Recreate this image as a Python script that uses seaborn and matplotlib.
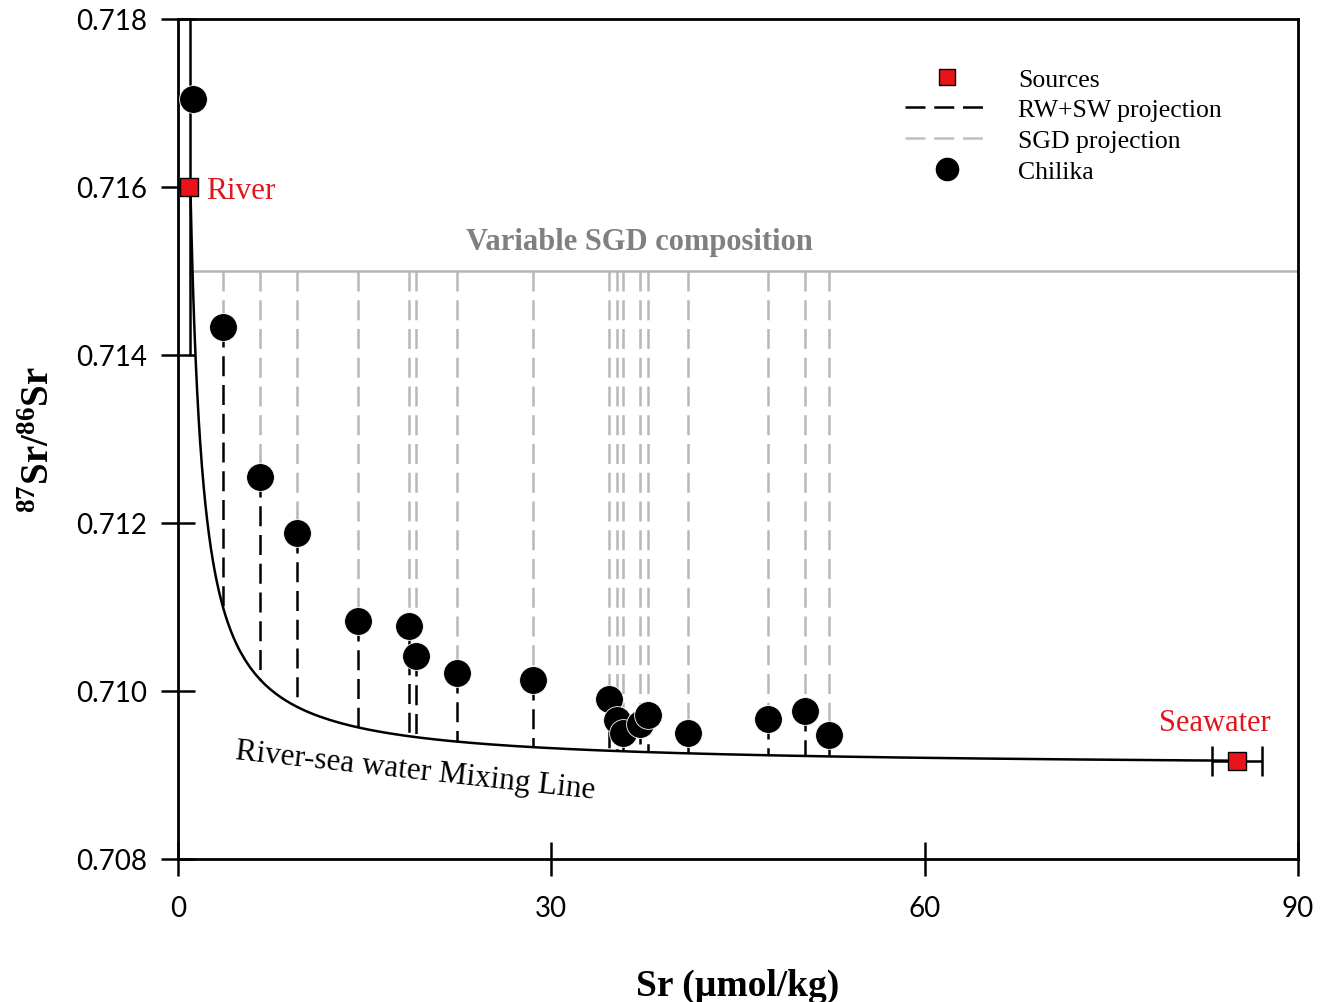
import numpy as np
import pandas as pd
import matplotlib
matplotlib.use("Agg")
import matplotlib.pyplot as plt
from matplotlib.lines import Line2D
import seaborn as sns

# ---------------- data ----------------
chilika_sr = [1.2, 3.6, 6.6, 9.6, 14.5, 18.6, 19.1, 22.4, 28.5, 34.6, 35.3, 35.8,
              37.1, 37.8, 41.0, 47.4, 50.4, 52.3]
chilika_ratio = [0.71705, 0.71433, 0.71255, 0.71188, 0.71083, 0.71077, 0.71042,
                 0.71021, 0.71013, 0.70991, 0.70965, 0.70950, 0.70961, 0.70971,
                 0.70950, 0.70967, 0.70976, 0.70948]
source_names = ["River", "Seawater"]
source_sr = [0.9, 85.1]
source_ratio = [0.7160, 0.70917]
seawater_sr_err = 2.0
sgd_ratio = 0.7150
# end-members used for the two-component mixing hyperbola
mix_river_sr, mix_river_ratio = 1.0, 0.7160
mix_sea_sr, mix_sea_ratio = 85.1, 0.70917
x_ticks = [0, 30, 60, 90]
y_ticks = [0.708, 0.710, 0.712, 0.714, 0.716, 0.718]


def mixing_ratio(sr):
    sr = np.asarray(sr, dtype=float)
    f = (mix_sea_sr - sr) / (mix_sea_sr - mix_river_sr)  # river fraction
    return (f * mix_river_sr * mix_river_ratio + (1 - f) * mix_sea_sr * mix_sea_ratio) / sr


# ---------------- style ----------------
sns.set_theme(style="ticks")
plt.rcParams["font.family"] = ["Liberation Serif", "DejaVu Serif"]
plt.rcParams["mathtext.fontset"] = "custom"
plt.rcParams["mathtext.rm"] = "Liberation Serif"
plt.rcParams["mathtext.bf"] = "Liberation Serif:bold"
plt.rcParams["text.color"] = "black"
plt.rcParams["axes.labelcolor"] = "black"

fig = plt.figure(figsize=(13.26, 10.03), dpi=100)
ax = fig.add_axes([0.1342, 0.1426, 0.8447, 0.8375])

# mixing line
mix_x = np.concatenate([np.linspace(mix_river_sr, 5, 200), np.linspace(5, mix_sea_sr, 200)])
mix_df = pd.DataFrame({"sr": mix_x, "ratio": mixing_ratio(mix_x)})
sns.lineplot(data=mix_df, x="sr", y="ratio", ax=ax, color="black", lw=1.8,
             sort=False, estimator=None, zorder=3)
ax.plot([0.96, 0.96], [0.714, 0.718], color="black", lw=1.8, zorder=3)

# SGD composition line
ax.plot([0.96, 90], [sgd_ratio, sgd_ratio], color="#b5b5b5", lw=1.8, zorder=2)

# projections
for sx, sy in zip(chilika_sr, chilika_ratio):
    if sy >= sgd_ratio:
        continue
    ax.plot([sx, sx], [sgd_ratio, sy], color="#b8b8b8", lw=1.8,
            dashes=(8, 3.5), zorder=2)
    ax.plot([sx, sx], [sy, float(mixing_ratio(sx))], color="black", lw=1.8,
            dashes=(8, 3.5), zorder=2)

# seawater error bar
ax.errorbar([source_sr[1]], [source_ratio[1]], xerr=[seawater_sr_err], fmt="none",
            ecolor="black", elinewidth=1.8, capsize=11, capthick=1.8, zorder=4)

# points
chil_df = pd.DataFrame({"sr": chilika_sr, "ratio": chilika_ratio})
sns.scatterplot(data=chil_df, x="sr", y="ratio", ax=ax, color="black", s=400,
                edgecolor="white", linewidth=0.6, zorder=5, legend=False)
src_df = pd.DataFrame({"name": source_names, "sr": source_sr, "ratio": source_ratio})
sns.scatterplot(data=src_df, x="sr", y="ratio", ax=ax, color="#e8141a", marker="s",
                s=150, edgecolor="black", linewidth=1.0, zorder=6, legend=False)

# annotations
ax.text(2.25, 0.71596, "River", color="#e0161c", fontsize=22.5, va="center", ha="left")
ax.text(83.3, 0.70954, "Seawater", color="#e0161c", fontsize=22, va="baseline",
        ha="center")
ax.text(37.1, 0.71526, "Variable SGD composition", color="#808080", fontsize=22,
        fontweight="bold", ha="center", va="baseline")
ax.text(19.1, 0.70905, "River-sea water Mixing Line", color="black", fontsize=22.5,
        ha="center", va="center", rotation=-6.3)

# axes
ax.set_xlim(0, 90)
ax.set_ylim(0.708, 0.718)
ax.set_xticks(x_ticks)
ax.set_yticks(y_ticks)
ax.set_yticklabels([f"{v:.3f}" for v in y_ticks])
ax.tick_params(direction="inout", length=24, width=1.8, labelsize=20, colors="black")
ax.tick_params(axis="y", pad=10)
ax.tick_params(axis="x", pad=14)
for lab in ax.get_xticklabels() + ax.get_yticklabels():
    lab.set_family(["Lato", "DejaVu Sans"])
for sp in ax.spines.values():
    sp.set_visible(True)
    sp.set_linewidth(2.0)
    sp.set_color("black")
ax.set_xlabel("Sr (µmol/kg)", fontsize=27, fontweight="bold", labelpad=34)
ax.set_ylabel(r"$\mathbf{^{87}Sr/^{86}Sr}$", fontsize=28, labelpad=13)

handles = [
    Line2D([], [], marker="s", color="none", markerfacecolor="#e8141a",
           markeredgecolor="black", markersize=12, label="Sources"),
    Line2D([], [], color="black", lw=1.8, dashes=(8, 3.5), label="RW+SW projection"),
    Line2D([], [], color="#c0c0c0", lw=1.8, dashes=(8, 3.5), label="SGD projection"),
    Line2D([], [], marker="o", color="none", markerfacecolor="black",
           markeredgecolor="black", markersize=16, label="Chilika"),
]
ax.legend(handles=handles, loc="upper left", bbox_to_anchor=(0.649, 0.942),
          frameon=False, borderpad=0, borderaxespad=0, fontsize=18.5,
          handlelength=3.3, labelspacing=0.3, handletextpad=1.1)

fig.savefig("out.png", dpi=100)
